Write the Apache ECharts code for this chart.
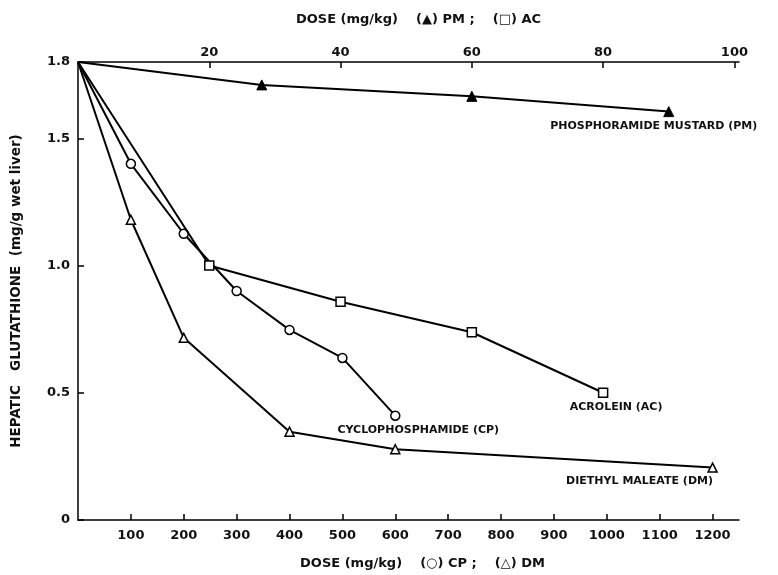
<!DOCTYPE html>
<html>
<head>
<meta charset="utf-8">
<script src="https://cdn.jsdelivr.net/npm/echarts@6/dist/echarts.min.js"></script>
<style>
html,body{margin:0;padding:0;background:#fff;}
#chart{width:778px;height:575px;}
</style>
</head>
<body>
<div id="chart"></div>
<script>
// Top axis (mg/kg): PM and AC
var pmDose = [0, 28, 60, 90];
var pmGSH  = [1.80, 1.71, 1.665, 1.605];
var acDose = [0, 20, 40, 60, 80];
var acGSH  = [1.80, 1.00, 0.858, 0.738, 0.50];
// Bottom axis (mg/kg): CP and DM
var cpDose = [0, 100, 200, 300, 400, 500, 600];
var cpGSH  = [1.80, 1.40, 1.125, 0.90, 0.747, 0.637, 0.41];
var dmDose = [0, 100, 200, 400, 600, 1200];
var dmGSH  = [1.80, 1.18, 0.716, 0.347, 0.278, 0.206];

var topTicks = [20, 40, 60, 80, 100];
var bottomTicks = [100, 200, 300, 400, 500, 600, 700, 800, 900, 1000, 1100, 1200];
var yTicks = [0, 0.5, 1.0, 1.5, 1.8];

var seriesNames = ['PHOSPHORAMIDE MUSTARD (PM)', 'ACROLEIN (AC)', 'CYCLOPHOSPHAMIDE (CP)', 'DIETHYL MALEATE (DM)'];

var FONT = 'DejaVu Sans';
var labelStyle = {fontFamily: FONT, fontWeight: 'bold', fontSize: 11, color: '#111'};

function build(xs, ys, labelText, offset) {
  return xs.map(function (x, i) {
    var item = {value: [x, ys[i]]};
    if (i === 0) item.symbol = 'none';
    if (i === xs.length - 1) {
      item.label = Object.assign({
        show: true, formatter: labelText, position: 'inside',
        align: 'center', verticalAlign: 'middle', offset: offset
      }, labelStyle);
    }
    return item;
  });
}

var lineStyle = {color: '#000', width: 2};
var axisLabelStyle = {fontFamily: FONT, fontWeight: 'bold', fontSize: 13, color: '#111'};
var nameStyle = {fontFamily: FONT, fontWeight: 'bold', fontSize: 13, color: '#111'};
function plain(v) { return String(v); }

var chart = echarts.init(document.getElementById('chart'), null, {renderer: 'canvas'});
chart.setOption({
  animation: false,
  backgroundColor: '#fff',
  grid: {left: 78, right: 39, top: 62, bottom: 53, containLabel: false},
  xAxis: [
    {
      type: 'value', position: 'bottom', min: 0, max: 1250,
      name: 'DOSE (mg/kg)    (\u25CB) CP ;    (\u25B3) DM',
      nameLocation: 'middle', nameGap: 37,
      nameTextStyle: Object.assign({padding: [0, 0, 0, 28]}, nameStyle),
      axisLine: {show: true, onZero: false, lineStyle: {color: '#000', width: 1.5}},
      axisTick: {show: true, inside: true, length: 6, customValues: bottomTicks, lineStyle: {color: '#000', width: 1.5}},
      axisLabel: Object.assign({customValues: bottomTicks, margin: 9, formatter: plain}, axisLabelStyle),
      splitLine: {show: false}
    },
    {
      type: 'value', position: 'top', min: 0, max: 100.7,
      name: 'DOSE (mg/kg)    (\u25B2) PM ;    (\u25A1) AC',
      nameLocation: 'middle', nameGap: 36,
      nameTextStyle: Object.assign({padding: [0, 0, 0, 20]}, nameStyle),
      axisLine: {show: true, onZero: false, lineStyle: {color: '#000', width: 1.5}},
      axisTick: {show: true, inside: true, length: 6, customValues: topTicks, lineStyle: {color: '#000', width: 1.5}},
      axisLabel: Object.assign({customValues: topTicks, margin: 3, formatter: plain}, axisLabelStyle),
      splitLine: {show: false}
    }
  ],
  yAxis: {
    type: 'value', min: 0, max: 1.8,
    name: 'HEPATIC   GLUTATHIONE  (mg/g wet liver)',
    nameLocation: 'middle', nameGap: 55,
    nameTextStyle: Object.assign({}, nameStyle, {fontSize: 13.5}),
    axisLine: {show: true, onZero: false, lineStyle: {color: '#000', width: 1.5}},
    axisTick: {show: true, inside: true, length: 6, customValues: yTicks, lineStyle: {color: '#000', width: 1.5}},
    axisLabel: Object.assign({
      customValues: yTicks, margin: 8,
      formatter: function (v) { return v === 0 ? '0' : v.toFixed(1); }
    }, axisLabelStyle),
    splitLine: {show: false}
  },
  series: [
    {
      name: seriesNames[0], type: 'line', xAxisIndex: 1,
      data: build(pmDose, pmGSH, seriesNames[0], [-15, 15]),
      symbol: 'triangle', symbolSize: 10, showAllSymbol: true,
      itemStyle: {color: '#000', borderColor: '#000', borderWidth: 1},
      lineStyle: lineStyle, z: 3
    },
    {
      name: seriesNames[1], type: 'line', xAxisIndex: 1,
      data: build(acDose, acGSH, seriesNames[1], [13, 14]),
      symbol: 'rect', symbolSize: 9, showAllSymbol: true,
      itemStyle: {color: '#fff', borderColor: '#000', borderWidth: 1.5},
      lineStyle: lineStyle, z: 4
    },
    {
      name: seriesNames[2], type: 'line', xAxisIndex: 0,
      data: build(cpDose, cpGSH, seriesNames[2], [23, 14]),
      symbol: 'circle', symbolSize: 9, showAllSymbol: true,
      itemStyle: {color: '#fff', borderColor: '#000', borderWidth: 1.5},
      lineStyle: lineStyle, z: 3
    },
    {
      name: seriesNames[3], type: 'line', xAxisIndex: 0,
      data: build(dmDose, dmGSH, seriesNames[3], [-73, 14]),
      symbol: 'triangle', symbolSize: 9, showAllSymbol: true,
      itemStyle: {color: '#fff', borderColor: '#000', borderWidth: 1.5},
      lineStyle: lineStyle, z: 3
    }
  ]
});
</script>
</body>
</html>
